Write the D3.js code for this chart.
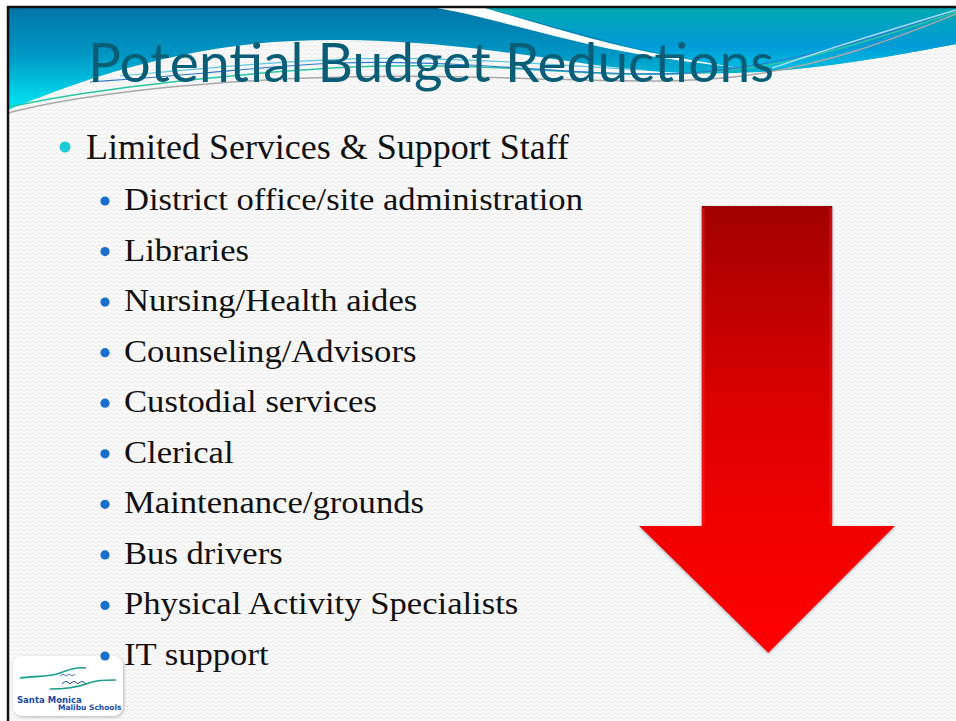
<html>
<head>
<script src="https://cdn.jsdelivr.net/npm/d3@7"></script>
<style>
  body { margin: 0; background: #fff; }
  svg { display: block; }
</style>
</head>
<body>
<svg id="slide" width="956" height="721"></svg>
<script>
// slide content
var titleText = "Potential Budget Reductions";
var topItem = "Limited Services & Support Staff";
var subItems = [
  "District office/site administration",
  "Libraries",
  "Nursing/Health aides",
  "Counseling/Advisors",
  "Custodial services",
  "Clerical",
  "Maintenance/grounds",
  "Bus drivers",
  "Physical Activity Specialists",
  "IT support"
];
var logoLines = ["Santa Monica", "Malibu Schools"];

var svg = d3.select("#slide");
var defs = svg.append("defs");

// faint zigzag texture of the slide background
var pat = defs.append("pattern").attr("id", "zig")
  .attr("patternUnits", "userSpaceOnUse").attr("width", 6).attr("height", 4);
pat.append("rect").attr("width", 6).attr("height", 4).attr("fill", "#fafafa");
pat.append("path").attr("d", "M0,3 L3,1 L6,3").attr("fill", "none")
  .attr("stroke", "#ebebeb").attr("stroke-width", 1);

var band = defs.append("linearGradient").attr("id", "band")
  .attr("gradientUnits", "userSpaceOnUse").attr("x1", 0).attr("y1", 8).attr("x2", 0).attr("y2", 110);
band.append("stop").attr("offset", 0).attr("stop-color", "#0076a8");
band.append("stop").attr("offset", 0.45).attr("stop-color", "#0096c4");
band.append("stop").attr("offset", 1).attr("stop-color", "#00eaf4");

var teal = defs.append("linearGradient").attr("id", "teal")
  .attr("gradientUnits", "userSpaceOnUse").attr("x1", 0).attr("y1", 8).attr("x2", 0).attr("y2", 75);
teal.append("stop").attr("offset", 0).attr("stop-color", "#00a9b1");
teal.append("stop").attr("offset", 0.55).attr("stop-color", "#009ad6");
teal.append("stop").attr("offset", 1).attr("stop-color", "#00c8e8");

var red = defs.append("linearGradient").attr("id", "red")
  .attr("gradientUnits", "userSpaceOnUse").attr("x1", 0).attr("y1", 206).attr("x2", 0).attr("y2", 653);
red.append("stop").attr("offset", 0).attr("stop-color", "#a20000");
red.append("stop").attr("offset", 0.45).attr("stop-color", "#dc0000");
red.append("stop").attr("offset", 0.72).attr("stop-color", "#f20000");
red.append("stop").attr("offset", 1).attr("stop-color", "#ff0606");

var glow = defs.append("filter").attr("id", "glow")
  .attr("x", -0.1).attr("y", -0.1).attr("width", 1.2).attr("height", 1.2);
glow.append("feDropShadow").attr("dx", 0).attr("dy", 1).attr("stdDeviation", 1.6)
  .attr("flood-color", "#7f98a8").attr("flood-opacity", 0.8);

var logoShadow = defs.append("filter").attr("id", "lshadow")
  .attr("x", -0.1).attr("y", -0.1).attr("width", 1.3).attr("height", 1.3);
logoShadow.append("feDropShadow").attr("dx", 1).attr("dy", 1).attr("stdDeviation", 1.5)
  .attr("flood-color", "#999").attr("flood-opacity", 0.7);

// slide area
svg.append("rect").attr("x", 8).attr("y", 7).attr("width", 960).attr("height", 730)
  .attr("fill", "url(#zig)");

// header wave
var curve = d3.line().curve(d3.curveBasis);
var lower = [[8,110],[40,97],[120,68],[230,44],[330,38],[450,44],[560,60],[660,74],[760,74],[860,62],[956,44]];
svg.append("path")
  .attr("d", curve(lower) + "L956,8L8,8Z")
  .attr("fill", "url(#band)");

// right part of the band, beyond the white streak
var rightPart = [[485,8],[560,28],[640,50],[720,66],[790,70],[870,60],[956,44]];
svg.append("path")
  .attr("d", curve(rightPart) + "L956,8Z")
  .attr("fill", "url(#teal)");

// white streak
var streakTop = [[485,8],[560,30],[640,52],[740,68]];
var streakBot = [[740,68],[640,56],[560,38],[470,14],[437,8]];
svg.append("path")
  .attr("d", curve(streakTop) + curve(streakBot).replace("M", "L") + "Z")
  .attr("fill", "#ffffff");

// thin decorative strokes along the wave
var thin = d3.line().curve(d3.curveBasis);
svg.append("path")
  .attr("d", thin([[8,113],[60,100],[200,82],[400,74],[560,80],[680,82],[760,76],[860,52],[956,14]]))
  .attr("fill", "none").attr("stroke", "#a9a9a9").attr("stroke-width", 1.5);
svg.append("path")
  .attr("d", thin([[8,107],[80,93],[200,78],[380,63],[520,68],[640,77],[760,70],[860,44],[956,12]]))
  .attr("fill", "none").attr("stroke", "#28c6a2").attr("stroke-width", 1.5);
svg.append("path")
  .attr("d", thin([[90,82],[200,74],[340,60],[470,64],[600,74],[700,75],[790,60],[880,36],[956,10]]))
  .attr("fill", "none").attr("stroke", "#2f78d0").attr("stroke-width", 1.2);
svg.append("path")
  .attr("d", thin([[120,76],[250,64],[380,56],[520,62],[640,70]]))
  .attr("fill", "none").attr("stroke", "#5cc6e0").attr("stroke-width", 1.2);
svg.append("path")
  .attr("d", thin([[772,68],[850,42],[956,10]]))
  .attr("fill", "none").attr("stroke", "#9fdcf0").attr("stroke-width", 1.5);

// border of the slide
svg.append("line").attr("x1", 7).attr("y1", 7).attr("x2", 956).attr("y2", 7)
  .attr("stroke", "#111").attr("stroke-width", 2.5);
svg.append("line").attr("x1", 8).attr("y1", 6).attr("x2", 8).attr("y2", 721)
  .attr("stroke", "#111").attr("stroke-width", 2.5);

// district logo (under the list, the last bullet sits on its corner)
var logo = svg.append("g");
logo.append("rect").attr("x", 13).attr("y", 656).attr("width", 110).attr("height", 60)
  .attr("rx", 9).attr("fill", "#ffffff").attr("filter", "url(#lshadow)");
logo.append("path").attr("d", "M20,678 C34,676 50,677 60,673 C68,670 76,667 86,668")
  .attr("fill", "none").attr("stroke", "#1a9c8c").attr("stroke-width", 1.6);
logo.append("path").attr("d", "M50,689 C66,689 78,687 86,684 C96,680 104,680 116,680")
  .attr("fill", "none").attr("stroke", "#1a9c8c").attr("stroke-width", 1.6);
logo.append("path").attr("d", "M62,684 q4,-5 8,0 q4,-5 8,0 q4,-5 8,0")
  .attr("fill", "none").attr("stroke", "#2050b0").attr("stroke-width", 1);
logo.append("path").attr("d", "M60,676 l3,-2 l3,2 l3,-2 l3,2 l3,-2")
  .attr("fill", "none").attr("stroke", "#2050b0").attr("stroke-width", 0.8);
logo.append("text").attr("x", 17).attr("y", 703)
  .attr("font-family", "'DejaVu Sans', sans-serif").attr("font-size", 8.5).attr("font-weight", "bold")
  .attr("fill", "#1b49a8").text(logoLines[0]);
logo.append("text").attr("x", 58).attr("y", 710)
  .attr("font-family", "'DejaVu Sans', sans-serif").attr("font-size", 7.5).attr("font-weight", "bold")
  .attr("fill", "#1b49a8").text(logoLines[1]);

// title
var title = svg.append("text")
  .attr("x", 88).attr("y", 82)
  .attr("font-family", "Lato, 'Open Sans', sans-serif")
  .attr("font-size", 54)
  .attr("fill", "#0a5d77")
  .text(titleText);
title.attr("textLength", 686).attr("lengthAdjust", "spacingAndGlyphs");

// bullet list
var serif = "'Liberation Serif', 'DejaVu Serif', serif";
var y = d3.scaleLinear().domain([0, subItems.length - 1]).range([210, 665]);

svg.append("circle").attr("cx", 65).attr("cy", 147).attr("r", 5.5).attr("fill", "#1ccbd6");
var top1 = svg.append("text").attr("x", 86).attr("y", 159)
  .attr("font-family", serif).attr("font-size", 35).attr("fill", "#111")
  .text(topItem);
top1.attr("textLength", 483).attr("lengthAdjust", "spacingAndGlyphs");

var rows = svg.append("g").selectAll("g").data(subItems).enter().append("g")
  .attr("transform", function(d, i) { return "translate(0," + y(i) + ")"; });
rows.append("circle").attr("cx", 105).attr("cy", -9).attr("r", 4.6).attr("fill", "#1a6fcd");
var labels = rows.append("text").attr("x", 124).attr("y", 0)
  .attr("font-family", serif).attr("font-size", 31).attr("fill", "#111")
  .text(function(d) { return d; });
// Palatino-like width: stretch all lines by the same factor as the first one
var k = 459 / labels.nodes()[0].getComputedTextLength();
labels.each(function() {
  var w = this.getComputedTextLength();
  d3.select(this).attr("textLength", w * k).attr("lengthAdjust", "spacingAndGlyphs");
});

// down arrow
var ax = d3.scaleLinear().domain([-1, 1]).range([639, 895]);
var shaft = 0.51;
var arrow = [[-shaft,206],[shaft,206],[shaft,526],[1,526],[0.01,653],[-1,526],[-shaft,526]];
svg.append("path")
  .attr("d", d3.line().x(function(p) { return ax(p[0]); }).y(function(p) { return p[1]; })(arrow) + "Z")
  .attr("fill", "url(#red)")
  .attr("filter", "url(#glow)");
svg.append("rect").attr("x", ax(-shaft)).attr("y", 208).attr("width", 3).attr("height", 316)
  .attr("fill", "#ff3030").attr("opacity", 0.35);
svg.append("rect").attr("x", ax(shaft) - 3).attr("y", 208).attr("width", 3).attr("height", 316)
  .attr("fill", "#ff3030").attr("opacity", 0.35);
</script>
</body>
</html>
